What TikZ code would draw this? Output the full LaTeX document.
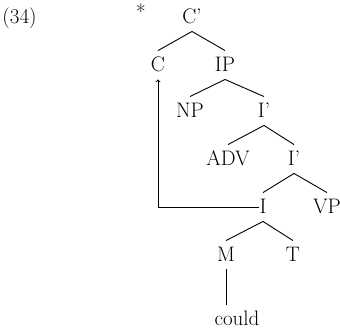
\documentclass[tikz,border=0pt]{standalone}
\usetikzlibrary{calc}
\tikzset{lbl/.style={font=\fontsize{21}{21}\selectfont}}
\tikzset{cat/.style={lbl,anchor=base,inner sep=0pt,text height=20pt,text depth=8pt}}

\begin{document}
\begin{tikzpicture}[x=1pt,y=-1pt,line join=round,line width=.9pt]
  \useasboundingbox (0,0) rectangle (340,330);
  \node[lbl,anchor=base west,inner sep=0pt] (num) at (2,23) {(34)};
  \node[lbl,anchor=base,inner sep=0pt] (star) at (141,19) {*};
  \node[cat] (cp) at (192,23) {C'};
  \node[cat] (c) at (158,71) {C};
  \node[cat] (ip) at (225,71) {IP};
  \node[cat] (np) at (190,117) {NP};
  \node[cat] (ib) at (264,117) {I'};
  \node[cat] (adv) at (228,165) {ADV};
  \node[cat] (ic) at (294,165) {I'};
  \node[cat] (i) at (263,213) {I};
  \node[cat] (vp) at (327,213) {VP};
  \node[cat] (m) at (226,261) {M};
  \node[cat] (t) at (293,261) {T};
  \node[cat] (could) at (237,325) {could};
  \draw (cp.south) -- (c.north);
  \draw (cp.south) -- (ip.north);
  \draw (ip.south) -- (np.north);
  \draw (ip.south) -- (ib.north);
  \draw (ib.south) -- (adv.north);
  \draw (ib.south) -- (ic.north);
  \draw (ic.south) -- (i.north);
  \draw (ic.south) -- (vp.north);
  \draw (i.south) -- (m.north);
  \draw (i.south) -- (t.north);
  \draw (m.south) -- (m.south |- could.north);
  \draw[->] (i.west) -| (c.south);
\end{tikzpicture}
\end{document}
